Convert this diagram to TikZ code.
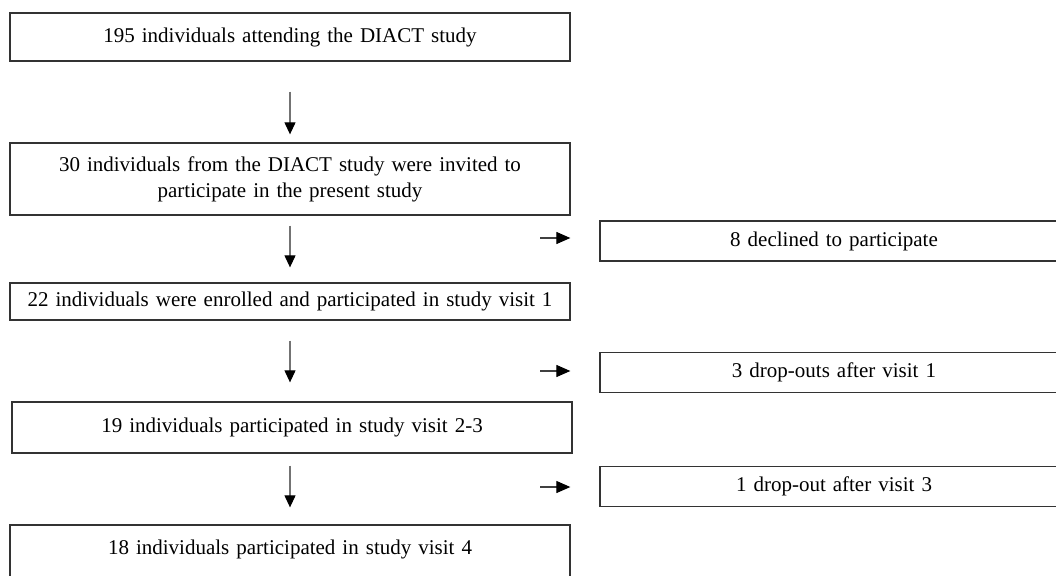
\documentclass[tikz,border=0pt]{standalone}
\usepackage{fontspec}
\setmainfont{Liberation Serif}
\usetikzlibrary{arrows.meta}

\begin{document}
\begin{tikzpicture}[x=1pt,y=-1pt,
    box/.style={draw=black!80, line width=1.3pt, inner sep=0pt, align=center,
      font=\fontsize{21}{26}\selectfont, text=black},
    leftbox/.style={box, minimum width=560pt, text width=540pt},
    rightbox/.style={box, minimum width=468pt, minimum height=40pt, text width=440pt},
    down/.style={draw=black!55, line width=1.1pt, -{Triangle[length=12pt,width=11pt,black]}},
    side/.style={draw=black!75, line width=1.1pt, -{Triangle[length=14pt,width=12pt,black]}}]
    \useasboundingbox (0,0) rectangle (1056,575);
    \clip (0,0) rectangle (1056,575);

    \node[leftbox, minimum height=48pt] (b1) at (290,37) {195 individuals attending the DIACT study};
    \node[leftbox, minimum height=72pt] (b2) at (290,179) {30 individuals from the DIACT study were invited to\\participate in the present study};
    \node[leftbox, minimum height=37pt] (b3) at (290,301.5) {22 individuals were enrolled and participated in study visit 1};
    \node[leftbox, minimum height=51pt] (b4) at (292,427.5) {19 individuals participated in study visit 2-3};
    \node[leftbox, anchor=base, text height=29pt, text depth=36pt] (b5) at (290,554) {18 individuals participated in study visit 4};

    \node[rightbox] (r1) at (834,241) {8 declined to participate};
    \node[rightbox] (r2) at (834,372.5) {3 drop-outs after visit 1};
    \node[rightbox] (r3) at (834,486.5) {1 drop-out after visit 3};

    \draw[down, shorten <=30pt, shorten >=8pt] (b1.south) -- (b2.north);
    \draw[down, shorten <=10pt, shorten >=15pt] (b2.south) -- (b3.north);
    \draw[down, shorten <=20pt, shorten >=19pt] (b3.south) -- (b4.north -| b3.south);
    \draw[down, shorten <=12pt, shorten >=17pt] (b4.south -| b5.north) -- (b5.north);

    \coordinate (h1) at (540,238);
    \coordinate (h2) at (540,371);
    \coordinate (h3) at (540,487);
    \draw[side, shorten >=29pt] (h1) -- (h1 -| r1.west);
    \draw[side, shorten >=29pt] (h2) -- (h2 -| r2.west);
    \draw[side, shorten >=29pt] (h3) -- (h3 -| r3.west);
\end{tikzpicture}
\end{document}
